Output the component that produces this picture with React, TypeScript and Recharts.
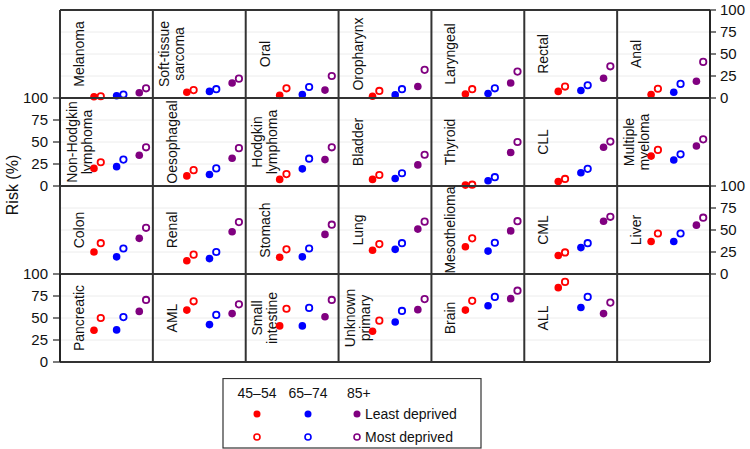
import React from "react";
import { ScatterChart, Scatter, XAxis, YAxis, CartesianGrid, ReferenceLine } from "recharts";

// cancer sites, in panel order (left to right, top to bottom); \n = line break in label
const cancerNames = [
  "Melanoma", "Soft-tissue\nsarcoma", "Oral", "Oropharynx", "Laryngeal", "Rectal", "Anal",
  "Non-Hodgkin\nlymphoma", "Oesophageal", "Hodgkin\nlymphoma", "Bladder", "Thyroid", "CLL", "Multiple\nmyeloma",
  "Colon", "Renal", "Stomach", "Lung", "Mesothelioma", "CML", "Liver",
  "Pancreatic", "AML", "Small\nintestine", "Unknown\nprimary", "Brain", "ALL",
];

// risk (%) by age group and deprivation
const age4554Least = [1.5, 6.5, 3, 2, 4.5, 7.5, 4, 20, 11.5, 7.5, 7.5, 1, 5, 34, 25, 15, 19, 27, 31, 21, 37, 36, 59, 41, 35, 59, 84.5];
const age4554Most = [2, 9, 11, 8, 10, 13, 10.5, 27, 18, 13.5, 12.5, 1.5, 8, 41, 35, 22, 28, 34, 40.5, 24.5, 46, 50, 69, 60.5, 47, 69.5, 91];
const age6574Least = [2.5, 7.5, 4, 3.5, 5, 8.5, 6.5, 22, 13, 19.5, 8.5, 6, 15, 29.5, 19.5, 17.5, 19.5, 28, 26, 30, 37, 36.5, 42.5, 41, 45.5, 64, 62];
const age6574Most = [4, 10, 12.5, 10, 11, 14.5, 16, 30, 20, 31, 14.5, 10, 19.5, 36, 29, 25, 29, 35, 35.5, 35, 46, 51, 53.5, 61.5, 58, 74, 74];
const age85Least = [6, 17, 9, 13, 17, 22.5, 19, 35, 31.5, 30, 24, 38, 44, 45.5, 40.5, 48, 45, 51, 49, 60, 55.5, 57.5, 55, 51.5, 59.5, 72, 55];
const age85Most = [11, 22, 25, 32, 30, 36, 41, 44, 43, 44, 35.5, 50, 50.5, 53, 52.5, 59, 56, 59.5, 60, 65, 64, 70.5, 65.5, 70.5, 71.5, 81, 67.5];

const ageGroups = ["45\u201354", "65\u201374", "85+"];
const yTicks = [0, 25, 50, 75, 100];

const FONT = '"Liberation Sans", Arial, Helvetica, sans-serif';
const COLS = 7;
const PANEL = 4.1; // x units per panel
const ROW_TOPS = [10, 98, 186, 274];
const ROW_H = 88;
const MARGIN_Y = 10;

const groups = [
  { name: ageGroups[0], color: "#ff0000", least: age4554Least, most: age4554Most },
  { name: ageGroups[1], color: "#0000ff", least: age6574Least, most: age6574Most },
  { name: ageGroups[2], color: "#800080", least: age85Least, most: age85Most },
];

const filledDot = (color: string) => (p: any) => (
  <circle cx={p.cx} cy={p.cy} r={3.8} fill={color} />
);
const openDot = (color: string) => (p: any) => (
  <circle cx={p.cx} cy={p.cy} r={3.2} fill="#fff" stroke={color} strokeWidth={1.8} />
);

const PanelLabel = (props: any) => {
  const { viewBox, text } = props;
  if (!viewBox) return null;
  const lines = String(text).split("\n");
  const cx = viewBox.x;
  const cy = MARGIN_Y + ROW_H / 2; // middle of the panel
  const gap = 15;
  return (
    <g>
      {lines.map((line: string, i: number) => {
        const x = cx + (i - (lines.length - 1) / 2) * gap;
        return (
          <text
            key={i}
            x={x}
            y={cy}
            transform={`rotate(-90, ${x}, ${cy})`}
            textAnchor="middle"
            dominantBaseline="central"
            fontSize={14}
            fontFamily={FONT}
            fill="#111"
          >
            {line}
          </text>
        );
      })}
    </g>
  );
};

const PanelRow = ({ row }: { row: number }) => {
  const idx = Array.from({ length: COLS }, (_, k) => row * COLS + k).filter((i) => i < cancerNames.length);
  const leftAxis = row % 2 === 1;
  const margin = leftAxis
    ? { top: MARGIN_Y, right: 40, bottom: MARGIN_Y, left: 10 }
    : { top: MARGIN_Y, right: 0, bottom: MARGIN_Y, left: 60 };

  return (
    <div style={{ position: "absolute", left: 0, top: ROW_TOPS[row] - MARGIN_Y }}>
      <ScatterChart width={750} height={ROW_H + 2 * MARGIN_Y} margin={margin}>
        <CartesianGrid vertical={false} stroke="#ececec" />
        <XAxis type="number" dataKey="x" domain={[0, COLS * PANEL]} hide />
        <YAxis
          type="number"
          dataKey="y"
          domain={[0, 100]}
          ticks={yTicks}
          orientation={leftAxis ? "left" : "right"}
          width={leftAxis ? 50 : 40}
          tickSize={leftAxis ? 7 : 6}
          tickMargin={leftAxis ? 5 : 4}
          axisLine={{ stroke: "#222", strokeWidth: 1.5 }}
          tickLine={{ stroke: "#222", strokeWidth: 1.2 }}
          tick={{ fontSize: 15, fill: "#111", fontFamily: FONT }}
          interval={0}
        />
        {Array.from({ length: COLS + 1 }, (_, k) => (
          <ReferenceLine key={"b" + k} x={k * PANEL} stroke="#333" strokeWidth={2} />
        ))}
        <ReferenceLine y={0} stroke="#333" strokeWidth={2} />
        <ReferenceLine y={100} stroke="#333" strokeWidth={2} />
        {idx.map((i, k) => (
          <ReferenceLine
            key={"l" + i}
            x={k * PANEL + 0.84}
            stroke="none"
            label={<PanelLabel text={cancerNames[i]} />}
          />
        ))}
        {groups.map((g, gi) => (
          <Scatter
            key={"f" + gi}
            name={g.name + " least"}
            data={idx.map((i, k) => ({ x: k * PANEL + 1.5 + gi, y: g.least[i] }))}
            shape={filledDot(g.color)}
            isAnimationActive={false}
          />
        ))}
        {groups.map((g, gi) => (
          <Scatter
            key={"o" + gi}
            name={g.name + " most"}
            data={idx.map((i, k) => ({ x: k * PANEL + 1.8 + gi, y: g.most[i] }))}
            shape={openDot(g.color)}
            isAnimationActive={false}
          />
        ))}
      </ScatterChart>
    </div>
  );
};

const LegendBox = () => {
  const colX = [35, 86, 135];
  return (
    <svg
      width={260}
      height={71}
      style={{ position: "absolute", left: 222, top: 378 }}
      fontFamily={FONT}
    >
      <rect x={1} y={0.5} width={258} height={69.5} fill="#fff" stroke="#333" strokeWidth={1.2} />
      {ageGroups.map((a, i) => (
        <text key={a} x={i === 2 ? 125 : colX[i]} y={20} fontSize={14} fill="#111" textAnchor={i === 2 ? "start" : "middle"}>
          {a}
        </text>
      ))}
      {groups.map((g, i) => (
        <circle key={"lf" + i} cx={colX[i]} cy={36} r={3.5} fill={g.color} />
      ))}
      {groups.map((g, i) => (
        <circle key={"lo" + i} cx={colX[i]} cy={59} r={3} fill="#fff" stroke={g.color} strokeWidth={1.6} />
      ))}
      <text x={143} y={41} fontSize={14} fill="#111">Least deprived</text>
      <text x={143} y={64} fontSize={14} fill="#111">Most deprived</text>
    </svg>
  );
};

export default function App() {
  return (
    <div
      style={{
        position: "absolute",
        left: 0,
        top: 0,
        width: 750,
        height: 449,
        background: "#fff",
        fontFamily: FONT,
        overflow: "hidden",
      }}
    >
      {ROW_TOPS.map((_, r) => (
        <PanelRow key={r} row={r} />
      ))}
      <svg width={30} height={120} style={{ position: "absolute", left: 0, top: 125 }}>
        <text
          x={18}
          y={60}
          transform="rotate(-90, 18, 60)"
          textAnchor="middle"
          fontSize={16}
          fontFamily={FONT}
          fill="#111"
        >
          Risk (%)
        </text>
      </svg>
      <LegendBox />
    </div>
  );
}
